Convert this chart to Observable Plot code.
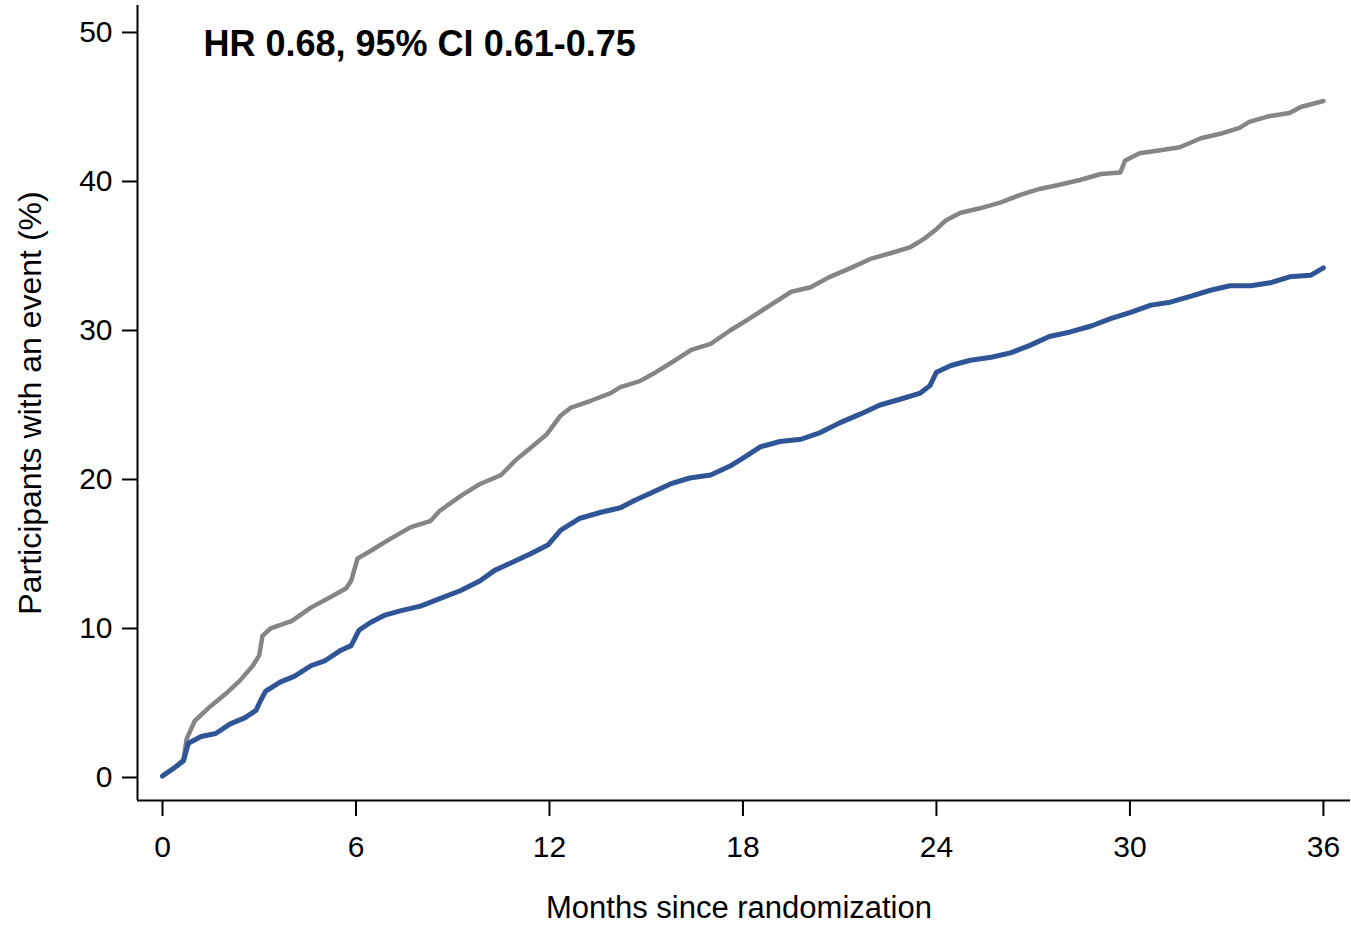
<!DOCTYPE html>
<html>
<head>
<meta charset="utf-8">
<script src="https://cdn.jsdelivr.net/npm/d3@7"></script>
<script src="https://cdn.jsdelivr.net/npm/@observablehq/plot@0.6"></script>
<style>
  html, body { margin: 0; padding: 0; background: #fff; }
</style>
</head>
<body>
<div id="chart"></div>
<script>
// Cumulative incidence, control arm (grey)
const controlMonths = [0, 0.4, 0.65, 0.75, 1.0, 1.5, 1.95, 2.4, 2.8, 3.0, 3.1, 3.35, 4.0, 4.6, 5.2, 5.7, 5.85, 6.05, 6.45, 7.05, 7.7, 8.3, 8.6, 9.25, 9.85, 10.5, 10.95, 11.4, 11.9, 12.35, 12.65, 13.3, 13.9, 14.2, 14.8, 15.3, 15.75, 16.4, 17.0, 17.6, 18.2, 18.85, 19.5, 20.1, 20.7, 21.35, 21.95, 22.6, 23.2, 23.65, 24.0, 24.3, 24.75, 25.35, 26.0, 26.6, 27.2, 27.85, 28.45, 29.1, 29.7, 29.85, 30.3, 30.95, 31.55, 32.2, 32.8, 33.4, 33.7, 34.35, 34.95, 35.3, 36.0];
const controlPct = [0.1, 0.7, 1.2, 2.6, 3.8, 4.8, 5.6, 6.5, 7.5, 8.2, 9.5, 10.0, 10.5, 11.4, 12.1, 12.7, 13.2, 14.7, 15.2, 16.0, 16.8, 17.2, 17.9, 18.9, 19.7, 20.3, 21.3, 22.1, 23.0, 24.3, 24.8, 25.3, 25.8, 26.2, 26.6, 27.2, 27.8, 28.7, 29.1, 30.0, 30.8, 31.7, 32.6, 32.9, 33.6, 34.2, 34.8, 35.2, 35.6, 36.2, 36.8, 37.4, 37.9, 38.2, 38.6, 39.1, 39.5, 39.8, 40.1, 40.5, 40.6, 41.4, 41.9, 42.1, 42.3, 42.9, 43.2, 43.6, 44.0, 44.4, 44.6, 45.0, 45.4];

// Cumulative incidence, treatment arm (blue)
const treatedMonths = [0, 0.4, 0.65, 0.8, 1.2, 1.65, 2.1, 2.55, 2.9, 3.05, 3.2, 3.65, 4.1, 4.6, 5.05, 5.5, 5.85, 6.1, 6.45, 6.9, 7.4, 8.0, 8.6, 9.25, 9.85, 10.3, 10.8, 11.4, 11.95, 12.35, 12.95, 13.6, 14.2, 14.65, 15.15, 15.75, 16.35, 17.0, 17.6, 18.05, 18.55, 19.15, 19.8, 20.4, 21.0, 21.65, 22.25, 22.9, 23.5, 23.8, 24.0, 24.45, 25.05, 25.7, 26.3, 26.9, 27.5, 28.15, 28.8, 29.4, 30.0, 30.65, 31.25, 31.9, 32.5, 33.1, 33.75, 34.35, 34.95, 35.6, 36.0];
const treatedPct = [0.1, 0.7, 1.1, 2.3, 2.75, 2.95, 3.6, 4.0, 4.5, 5.2, 5.8, 6.4, 6.8, 7.5, 7.85, 8.5, 8.85, 9.9, 10.4, 10.9, 11.2, 11.5, 12.0, 12.55, 13.2, 13.9, 14.4, 15.0, 15.6, 16.6, 17.4, 17.8, 18.1, 18.6, 19.1, 19.7, 20.1, 20.3, 20.9, 21.5, 22.2, 22.55, 22.7, 23.15, 23.8, 24.4, 25.0, 25.4, 25.8, 26.3, 27.2, 27.65, 28.0, 28.2, 28.5, 29.0, 29.6, 29.9, 30.3, 30.8, 31.2, 31.7, 31.9, 32.3, 32.7, 33.0, 33.0, 33.2, 33.6, 33.7, 34.2];

const xTicks = [0, 6, 12, 18, 24, 30, 36];
const yTicks = [0, 10, 20, 30, 40, 50];
const xDomain = [-0.775, 36.84];
const yDomain = [-1.544, 51.81];

const xLabel = "Months since randomization";
const yLabel = "Participants with an event (%)";
const hrText = "HR 0.68, 95% CI 0.61-0.75";

const control = controlMonths.map((m, i) => ({month: m, pct: controlPct[i]}));
const treated = treatedMonths.map((m, i) => ({month: m, pct: treatedPct[i]}));

const chart = Plot.plot({
  width: 1351,
  height: 928,
  marginLeft: 137,
  marginRight: 1,
  marginTop: 5,
  marginBottom: 128,
  style: {fontFamily: "'Liberation Sans', Arial, sans-serif", fontSize: "30px", background: "#fff", color: "#000"},
  x: {domain: xDomain},
  y: {domain: yDomain},
  marks: [
    Plot.axisX({ticks: xTicks, tickSize: 16, tickPadding: 19, strokeWidth: 2, label: null, fontSize: 30}),
    Plot.axisY({ticks: yTicks, tickSize: 15, tickPadding: 10, strokeWidth: 2, label: null, fontSize: 30}),
    Plot.ruleY([yDomain[0]], {stroke: "#000", strokeWidth: 2}),
    Plot.ruleX([xDomain[0]], {stroke: "#000", strokeWidth: 2}),
    Plot.line(control, {x: "month", y: "pct", stroke: "#858585", strokeWidth: 4.5}),
    Plot.line(treated, {x: "month", y: "pct", stroke: "#2f5597", strokeWidth: 5}),
    Plot.text([xLabel], {frameAnchor: "bottom", textAnchor: "middle", dy: 108, dx: -5, lineAnchor: "middle", fontSize: 31}),
    Plot.text([yLabel], {frameAnchor: "left", textAnchor: "middle", rotate: -90, dx: -107, lineAnchor: "middle", fontSize: 32}),
    Plot.text([hrText], {frameAnchor: "top-left", textAnchor: "start", lineAnchor: "top", dx: 66, dy: 25, fontSize: 36, fontWeight: "bold"})
  ]
});
document.getElementById("chart").appendChild(chart);
</script>
</body>
</html>
